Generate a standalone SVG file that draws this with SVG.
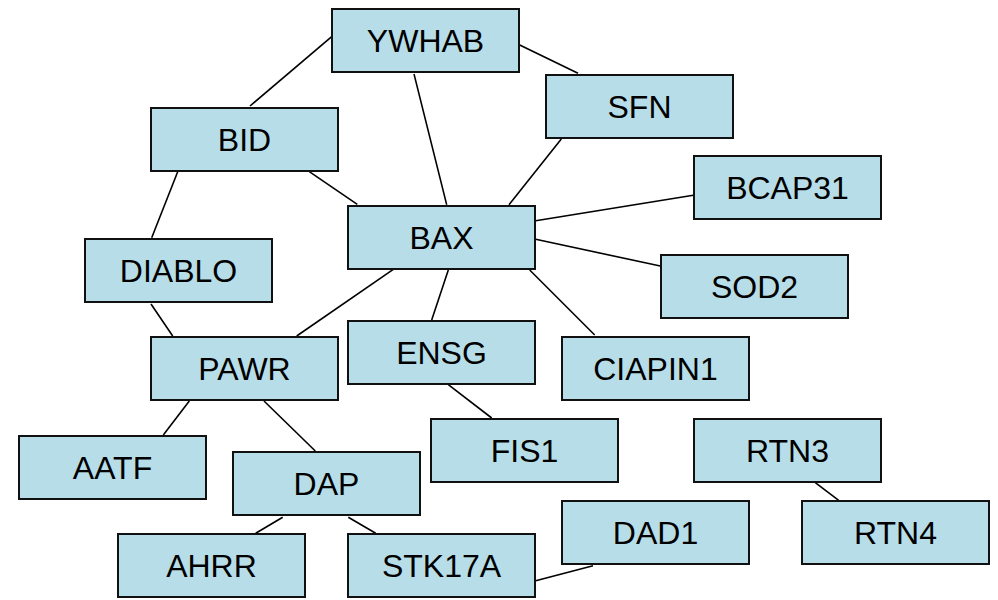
<svg xmlns="http://www.w3.org/2000/svg" width="998" height="600" viewBox="0 0 998 600">
<style>
.n rect{fill:#b7dee8;stroke:#111;stroke-width:2}
.n text{font-family:"Liberation Sans",Arial,sans-serif;font-size:32px;fill:#000;text-anchor:middle}
#edges line{stroke:#000;stroke-width:1.6}
</style>
<rect width="998" height="600" fill="#fff"/>
<g id="edges">
<line x1="331.7" y1="36.7" x2="250" y2="106"/>
<line x1="414" y1="74" x2="446.7" y2="204.7"/>
<line x1="519.7" y1="45" x2="578" y2="73.3"/>
<line x1="309.3" y1="171.7" x2="357.3" y2="204.3"/>
<line x1="177.7" y1="171.7" x2="151.7" y2="237.7"/>
<line x1="561.3" y1="139" x2="509" y2="204.7"/>
<line x1="535.7" y1="220.7" x2="693.3" y2="195.3"/>
<line x1="535.7" y1="239.3" x2="660.3" y2="266"/>
<line x1="529.7" y1="270" x2="594.7" y2="335"/>
<line x1="393.3" y1="269.3" x2="296.7" y2="336"/>
<line x1="448.3" y1="270" x2="431.7" y2="320"/>
<line x1="151" y1="304" x2="172.7" y2="336"/>
<line x1="189.3" y1="401" x2="163.3" y2="435"/>
<line x1="264" y1="401" x2="315.3" y2="451"/>
<line x1="282.7" y1="517.3" x2="255.7" y2="533.3"/>
<line x1="348.3" y1="517.3" x2="375.7" y2="533.3"/>
<line x1="448.3" y1="384.7" x2="491.7" y2="418"/>
<line x1="535.7" y1="580.7" x2="593" y2="565.7"/>
<line x1="815.3" y1="482.7" x2="838.7" y2="500.3"/>
</g>
<g id="YWHAB" class="n"><rect x="332" y="9" width="187" height="63"/><text x="425.5" y="52">YWHAB</text></g>
<g id="SFN" class="n"><rect x="546" y="75" width="187" height="63"/><text x="639.5" y="118">SFN</text></g>
<g id="BID" class="n"><rect x="151" y="108" width="187" height="63"/><text x="244.5" y="151">BID</text></g>
<g id="BCAP31" class="n"><rect x="694" y="156" width="187" height="63"/><text x="787.5" y="199">BCAP31</text></g>
<g id="BAX" class="n"><rect x="348" y="206" width="187" height="63"/><text x="441.5" y="249">BAX</text></g>
<g id="DIABLO" class="n"><rect x="85" y="239" width="187" height="63"/><text x="178.5" y="282">DIABLO</text></g>
<g id="SOD2" class="n"><rect x="661" y="255" width="187" height="63"/><text x="754.5" y="298">SOD2</text></g>
<g id="PAWR" class="n"><rect x="151" y="337" width="187" height="63"/><text x="244.5" y="380">PAWR</text></g>
<g id="ENSG" class="n"><rect x="348" y="321" width="187" height="63"/><text x="441.5" y="364">ENSG</text></g>
<g id="CIAPIN1" class="n"><rect x="562" y="337" width="187" height="63"/><text x="655.5" y="380">CIAPIN1</text></g>
<g id="AATF" class="n"><rect x="19" y="436" width="187" height="63"/><text x="112.5" y="479">AATF</text></g>
<g id="FIS1" class="n"><rect x="431" y="419" width="187" height="63"/><text x="524.5" y="462">FIS1</text></g>
<g id="RTN3" class="n"><rect x="694" y="419" width="187" height="63"/><text x="787.5" y="462">RTN3</text></g>
<g id="DAP" class="n"><rect x="233" y="452" width="187" height="63"/><text x="326.5" y="495">DAP</text></g>
<g id="DAD1" class="n"><rect x="562" y="501" width="187" height="63"/><text x="655.5" y="544">DAD1</text></g>
<g id="RTN4" class="n"><rect x="802" y="501" width="187" height="63"/><text x="895.5" y="544">RTN4</text></g>
<g id="AHRR" class="n"><rect x="118" y="534" width="187" height="63"/><text x="211.5" y="577">AHRR</text></g>
<g id="STK17A" class="n"><rect x="348" y="534" width="187" height="63"/><text x="441.5" y="577">STK17A</text></g>
</svg>
